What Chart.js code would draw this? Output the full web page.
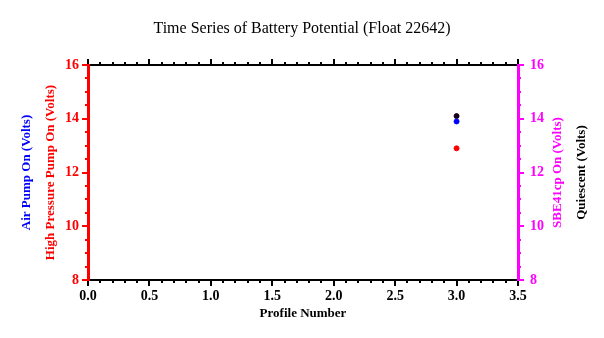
<!DOCTYPE html>
<html>
<head>
<meta charset="utf-8">
<script src="https://cdn.jsdelivr.net/npm/chart.js@4.4.1/dist/chart.umd.min.js"></script>
<style>
  html, body { margin: 0; padding: 0; background: #fff; }
  #wrap { width: 604px; height: 338px; }
</style>
</head>
<body>
<div id="wrap"><canvas id="batteryChart" width="604" height="338"></canvas></div>
<script>
// Profile numbers and battery voltages
var profiles = [3];
var airPumpVolts = [13.9];
var hpPumpVolts = [12.9];
var quiescentVolts = [14.1];

var xTicks = [0, 0.5, 1.0, 1.5, 2.0, 2.5, 3.0, 3.5];
var yTicks = [8, 10, 12, 14, 16];

var serif = '"Liberation Serif", "DejaVu Serif", serif';
var titleFont = { family: serif, size: 13, weight: 'bold', lineHeight: 1.2 };

function toPoints(xs, ys) {
    return xs.map(function(x, i) { return {x: x, y: ys[i]}; });
}

// small ticks between the labelled ones
var minorTicks = {
    id: 'minorTicks',
    afterDraw: function(chart) {
        var ctx = chart.ctx;
        var area = chart.chartArea;
        function drawX(scale, y0, dir, color) {
            ctx.strokeStyle = color;
            ctx.lineWidth = 2;
            for (var v = 0; v <= 35; v++) {
                if (v % 5 === 0) continue;
                var px = Math.round(scale.getPixelForValue(v / 10));
                ctx.beginPath();
                ctx.moveTo(px, y0);
                ctx.lineTo(px, y0 + dir * 3);
                ctx.stroke();
            }
        }
        function drawY(scale, x0, dir, color) {
            ctx.strokeStyle = color;
            ctx.lineWidth = 2;
            for (var v = 16; v <= 32; v++) {
                if (v % 4 === 0) continue;
                var py = Math.round(scale.getPixelForValue(v / 2));
                ctx.beginPath();
                ctx.moveTo(x0, py);
                ctx.lineTo(x0 + dir * 3, py);
                ctx.stroke();
            }
        }
        ctx.save();
        drawX(chart.scales.x, area.bottom, 1, '#000');
        drawX(chart.scales.x2, area.top, -1, '#000');
        drawY(chart.scales.y, area.left, -1, '#ff0000');
        drawY(chart.scales.y2, area.right, 1, '#ff00ff');
        ctx.restore();
    }
};

// right-hand axis titles read bottom-to-top, like the left ones
var rightTitles = {
    id: 'rightTitles',
    afterDraw: function(chart) {
        var ctx = chart.ctx;
        var area = chart.chartArea;
        var midY = (area.top + area.bottom) / 2;
        var items = [
            { scale: chart.scales.y2, inset: 10, text: 'SBE41cp On (Volts)', color: '#ff00ff' },
            { scale: chart.scales.yQ, inset: 22, text: 'Quiescent (Volts)', color: '#000' }
        ];
        ctx.save();
        ctx.font = 'bold 13px ' + serif;
        ctx.textAlign = 'center';
        ctx.textBaseline = 'middle';
        items.forEach(function(it) {
            ctx.save();
            ctx.translate(it.scale.right - it.inset, midY);
            ctx.rotate(-Math.PI / 2);
            ctx.fillStyle = it.color;
            ctx.fillText(it.text, 0, 0);
            ctx.restore();
        });
        ctx.restore();
    }
};

var ctx = document.getElementById('batteryChart').getContext('2d');
new Chart(ctx, {
    type: 'scatter',
    data: {
        datasets: [{
            label: 'Air Pump On',
            data: toPoints(profiles, airPumpVolts),
            backgroundColor: '#0000ff',
            borderColor: '#0000ff',
            pointRadius: 2.5,
            yAxisID: 'y'
        }, {
            label: 'High Pressure Pump On',
            data: toPoints(profiles, hpPumpVolts),
            backgroundColor: '#ff0000',
            borderColor: '#ff0000',
            pointRadius: 2.5,
            yAxisID: 'y'
        }, {
            label: 'Quiescent',
            data: toPoints(profiles, quiescentVolts),
            backgroundColor: '#1a001a',
            borderColor: '#1a001a',
            pointRadius: 2.5,
            yAxisID: 'y2'
        }]
    },
    options: {
        responsive: false,
        animation: false,
        events: [],
        layout: { padding: 0 },
        plugins: {
            legend: { display: false },
            tooltip: { enabled: false },
            title: {
                display: true,
                text: 'Time Series of Battery Potential (Float 22642)',
                color: '#000',
                font: { family: serif, size: 16, weight: 'normal', lineHeight: 1.2 },
                padding: { top: 19, bottom: 0 }
            }
        },
        scales: {
            x: {
                type: 'linear',
                position: 'bottom',
                min: 0,
                max: 3.5,
                afterBuildTicks: function(scale) {
                    scale.ticks = xTicks.map(function(v) { return {value: v}; });
                },
                afterFit: function(scale) { scale.height = 58; },
                ticks: {
                    color: '#000',
                    padding: 2,
                    maxRotation: 0,
                    font: { family: serif, size: 14, weight: 'bold' },
                    callback: function(v) { return Number(v).toFixed(1); }
                },
                grid: { drawOnChartArea: false, color: '#000', tickLength: 6, lineWidth: 2 },
                border: { color: '#000', width: 2 },
                title: {
                    display: true,
                    text: 'Profile Number',
                    color: '#000',
                    font: titleFont,
                    padding: { top: 0, bottom: 17 }
                }
            },
            x2: {
                type: 'linear',
                position: 'top',
                min: 0,
                max: 3.5,
                afterBuildTicks: function(scale) {
                    scale.ticks = xTicks.map(function(v) { return {value: v}; });
                },
                afterFit: function(scale) { scale.height = 26.8; },
                ticks: { display: false },
                grid: { drawOnChartArea: false, color: '#000', tickLength: 6, lineWidth: 2 },
                border: { color: '#000', width: 2 }
            },
            y: {
                type: 'linear',
                position: 'left',
                weight: 0,
                min: 8,
                max: 16,
                afterBuildTicks: function(scale) {
                    scale.ticks = yTicks.map(function(v) { return {value: v}; });
                },
                afterFit: function(scale) { scale.width = 52; },
                ticks: {
                    color: '#ff0000',
                    padding: 3,
                    font: { family: serif, size: 14, weight: 'bold' }
                },
                grid: { drawOnChartArea: false, color: '#ff0000', tickLength: 6, lineWidth: 2 },
                border: { color: '#ff0000', width: 3 },
                title: {
                    display: true,
                    text: 'High Pressure Pump On (Volts)',
                    color: '#ff0000',
                    font: titleFont,
                    padding: { top: 7, bottom: 0 }
                }
            },
            yAir: {
                type: 'linear',
                position: 'left',
                weight: 10,
                min: 8,
                max: 16,
                afterFit: function(scale) { scale.width = 36; },
                ticks: { display: false },
                grid: { display: false },
                border: { display: false },
                title: {
                    display: true,
                    text: 'Air Pump On (Volts)',
                    color: '#0000ff',
                    font: titleFont,
                    padding: { top: 19, bottom: 0 }
                }
            },
            y2: {
                type: 'linear',
                position: 'right',
                weight: 0,
                min: 8,
                max: 16,
                afterBuildTicks: function(scale) {
                    scale.ticks = yTicks.map(function(v) { return {value: v}; });
                },
                afterFit: function(scale) { scale.width = 50; },
                ticks: {
                    color: '#ff00ff',
                    padding: 6,
                    font: { family: serif, size: 14, weight: 'bold' }
                },
                grid: { drawOnChartArea: false, color: '#ff00ff', tickLength: 6, lineWidth: 2 },
                border: { color: '#ff00ff', width: 3 },
                title: { display: false }
            },
            yQ: {
                type: 'linear',
                position: 'right',
                weight: 10,
                min: 8,
                max: 16,
                afterFit: function(scale) { scale.width = 36; },
                ticks: { display: false },
                grid: { display: false },
                border: { display: false },
                title: { display: false }
            }
        }
    },
    plugins: [minorTicks, rightTitles]
});
</script>
</body>
</html>
